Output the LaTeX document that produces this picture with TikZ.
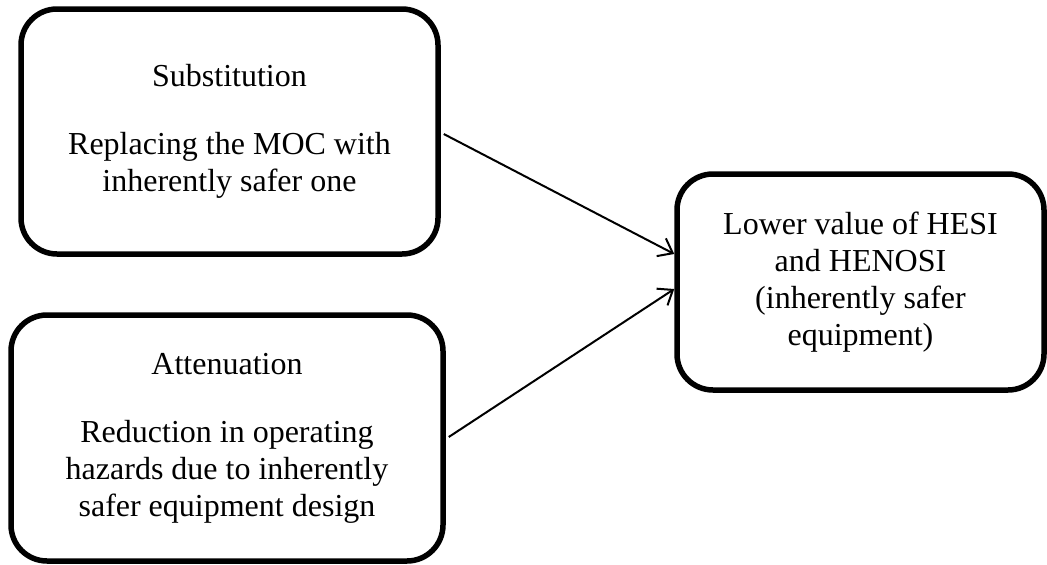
\documentclass[tikz,border=0pt]{standalone}
\usepackage{fontspec}
\setmainfont{Liberation Serif}
\usetikzlibrary{arrows.meta}

\tikzset{
  box/.style={draw=black, line width=5.5pt, rounded corners=36pt,
    inner sep=0pt, align=center,
    execute at begin node={\rule{0pt}{29pt}},
    font=\fontsize{32}{37}\selectfont},
  arr/.style={draw=black, line width=2pt,
    -{Straight Barb[length=13pt,width=20pt]}}
}

\begin{document}
\begin{tikzpicture}[x=1pt,y=-1pt]
  \useasboundingbox (0,0) rectangle (1047,565);

  % two design measures on the left
  \node[box, minimum width=417pt, minimum height=245pt] (sub) at (229.5,131.5)
    {Substitution\\[31pt]Replacing the MOC with\\inherently safer one};
  \node[box, minimum width=432pt, minimum height=246pt] (att) at (227,438)
    {Attenuation\\[31pt]Reduction in operating\\hazards due to inherently\\safer equipment design};

  % outcome on the right
  \node[box, minimum width=367pt, minimum height=216pt] (res) at (860.5,282)
    {Lower value of HESI\\and HENOSI\\(inherently safer\\equipment)};

  % arrows
  \draw[arr] ([xshift=3pt,yshift=-2.5pt]sub.east) -- ([yshift=28pt]res.west);
  \draw[arr] ([xshift=3pt,yshift=1pt]att.east) -- ([yshift=-7pt]res.west);
\end{tikzpicture}
\end{document}
